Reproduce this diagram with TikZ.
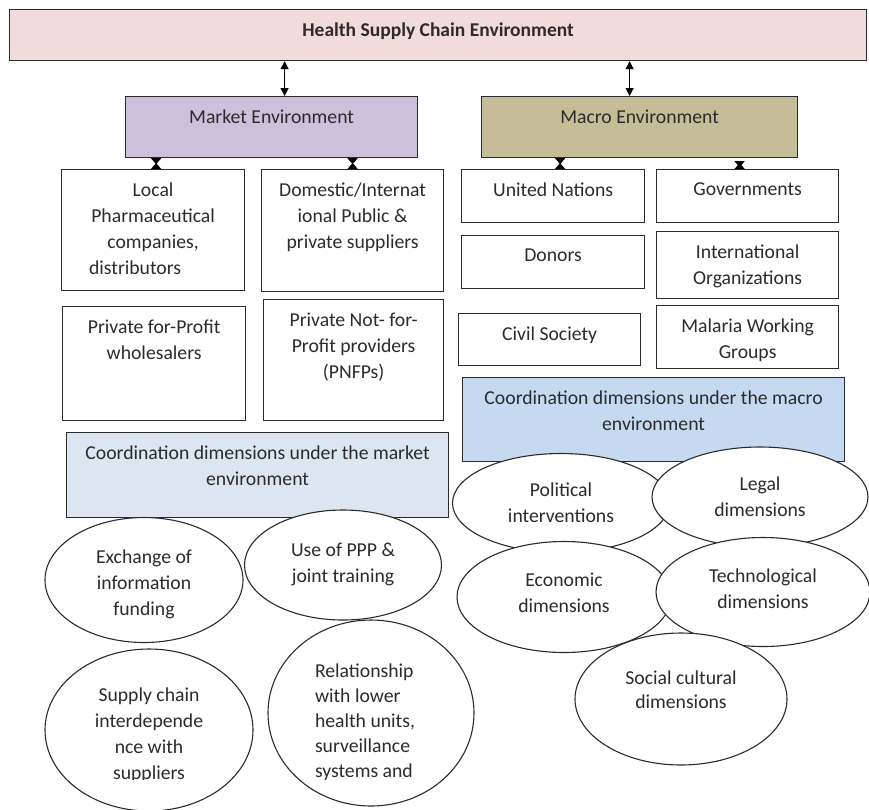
\documentclass[tikz,border=0pt]{standalone}
\usepackage{fontspec}
\setmainfont{Carlito}
\usetikzlibrary{shapes.geometric,arrows.meta,positioning}
\definecolor{healthpink}{HTML}{F2DCDB}
\definecolor{marketlilac}{HTML}{CCC0DA}
\definecolor{macrokhaki}{HTML}{C4BD97}
\definecolor{coordgrey}{HTML}{DCE6F1}
\definecolor{coordblue}{HTML}{C5D9F1}
\definecolor{inkgrey}{HTML}{2B2B2B}

\tikzset{
    box/.style={draw=inkgrey,line width=1.2pt,anchor=north west,inner sep=0pt},
    txt/.style={inner sep=0pt,align=center,anchor=north,text=inkgrey},
    oval/.style={ellipse,draw=inkgrey,line width=1.1pt,fill=white,inner sep=0pt},
    ovaltxt/.style={inner sep=0pt,align=center,text=inkgrey},
    dbl/.style={line width=1.1pt,draw=black,{Triangle[length=8pt,width=8pt]}-{Triangle[length=8pt,width=8pt]}},
    tie/.style={line width=1.1pt,draw=black,{Triangle[reversed,length=6pt,width=10pt]}-{Triangle[reversed,length=6pt,width=10pt]}}
}

\begin{document}
\begin{tikzpicture}[x=1pt,y=-1pt,font=\fontsize{19.7}{26}\selectfont]
    \useasboundingbox (0,0) rectangle (869,809);
    \clip (0,0) rectangle (869,809);

    % top level
    \node[box,fill=healthpink,minimum width=857,minimum height=51] (hsc) at (9,9) {};
    \node[txt,font=\fontsize{19.5}{26}\selectfont\bfseries] at ([yshift=-14]hsc.north) {Health Supply Chain Environment};

    \node[box,fill=marketlilac,minimum width=292,minimum height=61] (market) at (125,96) {};
    \node[txt] at ([yshift=-14]market.north) {Market Environment};
    \node[box,fill=macrokhaki,minimum width=316,minimum height=61] (macro) at (481,96) {};
    \node[txt] at ([yshift=-14]macro.north) {Macro Environment};

    \draw[dbl] ([xshift=13]market.north |- hsc.south) -- ([xshift=13]market.north);
    \draw[dbl] ([xshift=-10]macro.north |- hsc.south) -- ([xshift=-10]macro.north);

    % market actors
    \node[box,minimum width=183,minimum height=121] (local) at (61,169) {};
    \node[txt] at ([yshift=-14]local.north) {Local\\Pharmaceutical\\companies,\\distributors\hspace*{36pt}};
    \node[box,minimum width=182,minimum height=122] (domestic) at (261,169) {};
    \node[txt] at ([yshift=-14]domestic.north) {Domestic/Internat\\ional Public \&\\private suppliers};
    \node[box,minimum width=183,minimum height=114] (wholesale) at (62,306) {};
    \node[txt] at ([yshift=-14]wholesale.north) {Private for-Profit\\wholesalers};
    \node[box,minimum width=180,minimum height=121] (pnfp) at (263,299) {};
    \node[txt] at ([yshift=-14]pnfp.north) {Private Not- for-\\Profit providers\\(PNFPs)};

    \draw[tie] ([xshift=3]local.north |- market.south) -- ([xshift=3]local.north);
    \draw[tie] (domestic.north |- market.south) -- (domestic.north);

    % macro actors
    \node[box,minimum width=183,minimum height=53] (un) at (461,169) {};
    \node[txt] at ([yshift=-14]un.north) {United Nations};
    \node[box,minimum width=182,minimum height=53] (govt) at (656,169) {};
    \node[txt] at ([yshift=-14]govt.north) {Governments};
    \node[box,minimum width=183,minimum height=53] (donors) at (461,235) {};
    \node[txt] at ([yshift=-14]donors.north) {Donors};
    \node[box,minimum width=182,minimum height=67] (intorg) at (656,231) {};
    \node[txt] at ([yshift=-14]intorg.north) {International\\Organizations};
    \node[box,minimum width=182,minimum height=52] (civil) at (458,313) {};
    \node[txt] at ([yshift=-14]civil.north) {Civil Society};
    \node[box,minimum width=182,minimum height=63] (malaria) at (656,305) {};
    \begin{scope}
        \clip (0,0) rectangle (869,366);
        \node[txt] at ([yshift=-14]malaria.north) {Malaria Working\\Groups};
    \end{scope}

    \draw[tie] ([xshift=7]un.north |- macro.south) -- ([xshift=7]un.north);
    \draw[tie] ([xshift=-8,yshift=-3]govt.north |- macro.south) -- ([xshift=-8]govt.north);

    % coordination boxes
    \node[box,fill=coordgrey,minimum width=382,minimum height=85] (cmarket) at (66,432) {};
    \node[txt] at ([yshift=-14]cmarket.north) {Coordination dimensions under the market\\environment};
    \node[box,fill=coordblue,minimum width=382,minimum height=84] (cmacro) at (462,377) {};
    \node[txt] at ([yshift=-14]cmacro.north) {Coordination dimensions under the macro\\environment};

    % market ovals
    \node[oval,minimum width=198,minimum height=125] (exchange) at (144,580) {};
    \node[ovaltxt] at ([yshift=-4]exchange) {Exchange of\\information\\funding};
    \node[oval,minimum width=197,minimum height=110] (ppp) at (343,565) {};
    \node[ovaltxt] at ([yshift=1]ppp) {Use of PPP \&\\joint training};
    \node[oval,minimum width=208,minimum height=162] (interdep) at (149,730) {};
    \node[oval,minimum width=206,minimum height=186] (relation) at (371,713) {};
    \begin{scope}
        \clip (0,0) rectangle (869,779);
        \node[ovaltxt] at ([yshift=-5]interdep) {Supply chain\\interdepende\\nce with\\suppliers};
        \node[ovaltxt,align=left,font=\fontsize{19.7}{25}\selectfont] at ([xshift=-6,yshift=-9]relation) {Relationship\\with lower\\health units,\\surveillance\\systems and};
    \end{scope}

    % macro ovals
    \node[oval,minimum width=217,minimum height=99] (political) at (561,503) {};
    \node[ovaltxt] at (political) {Political\\interventions};
    \node[oval,minimum width=216,minimum height=100] (legal) at (760,497) {};
    \node[ovaltxt] at (legal) {Legal\\dimensions};
    \node[oval,minimum width=214,minimum height=111] (economic) at (564,597) {};
    \node[ovaltxt] at ([yshift=4]economic) {Economic\\dimensions};
    \node[oval,minimum width=214,minimum height=109] (techno) at (763,592) {};
    \node[ovaltxt] at ([yshift=3]techno) {Technological\\dimensions};
    \node[oval,minimum width=212,minimum height=132] (social) at (681,699) {};
    \node[ovaltxt,font=\fontsize{19.7}{24}\selectfont] at ([yshift=9]social) {Social cultural\\dimensions};
\end{tikzpicture}
\end{document}
